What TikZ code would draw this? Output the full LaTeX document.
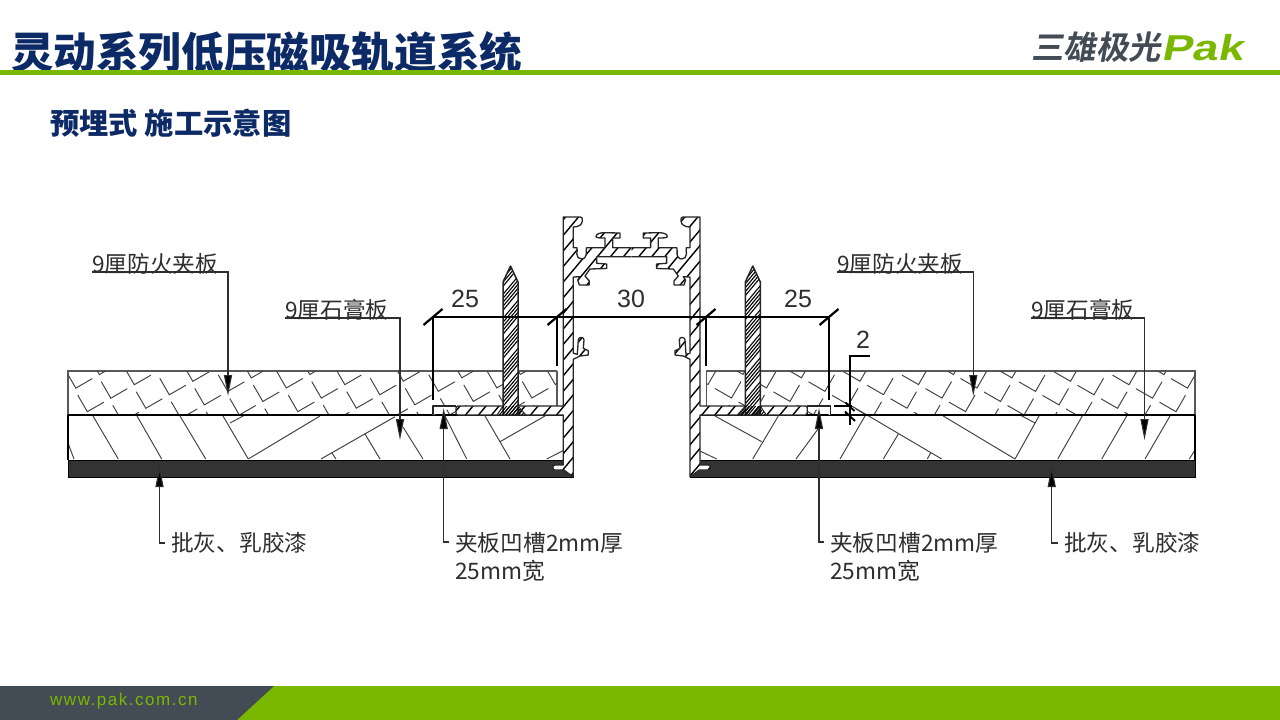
\documentclass[tikz,border=0pt]{standalone}
\usepackage{fontspec}
\setmainfont{Noto Sans CJK SC}
\newfontfamily\latinf{Liberation Sans}
\newfontfamily\logocjk[FakeSlant=0.18]{Noto Sans CJK SC Bold}
\newfontfamily\logolat[FakeSlant=0.16]{Liberation Sans Bold}
\usetikzlibrary{arrows.meta}
\definecolor{pakgreen}{HTML}{7AB800}
\definecolor{pakgray}{HTML}{434C55}
\definecolor{titleblue}{HTML}{0C2A66}
\definecolor{inkc}{HTML}{2E2E2E}
\definecolor{thinc}{HTML}{404040}
\tikzset{
  thinline/.style={draw=thinc,line width=0.95pt},
  outline/.style={draw=black!85,line width=1.3pt,line join=round},
  leader/.style={draw=inkc,line width=1.1pt},
  leaderarrow/.style={leader,-{Triangle[length=21pt,width=8pt,fill=black]}},
  dimline/.style={draw=black,line width=1.1pt},
  tick/.style={draw=black,line width=2.2pt},
  callout/.style={anchor=west,inner sep=0pt,font=\fontsize{22.7}{28}\selectfont,text=inkc},
  dimtext/.style={inner sep=0pt,font=\latinf\fontsize{25}{25}\selectfont,text=inkc},
}
% hatch: #1 sign of dx, #2 spacing, #3 first, #4 last
\newcommand\hatchlines[4]{%
  \pgfmathsetmacro\hnext{#3+#2}%
  \foreach \c in {#3,\hnext,...,#4}{\draw (\c,490) -- ++(#1*250,-300);}}
% banded hatch of the nail
\newcommand\bandlines[1]{%
  \foreach \c in {200,220,...,1040}{\foreach \o in {0,3.3,6.6,9.9,13.2}{\draw (\c+\o,490) -- ++(#1*250,-300);}}}
\newcommand\topboardmarks{%
  \begin{scope}
    \clip (68.3,371) rectangle (557,415);
    \foreach \i in {-6,...,30}{\foreach \j in {-12,...,12}{
      \pgfmathsetmacro\cx{87.3+58.5*\i+23.5*\j}
      \pgfmathsetmacro\cy{411.7-3.4*\i-13.5*\j}
      \ifdim\cy pt>350pt \ifdim\cy pt<440pt
      \draw[thinline] (\cx-9.5,\cy-16.5) -- (\cx,\cy) -- (\cx+16.5,\cy-9.5);
      \fi\fi
    }}
  \end{scope}}
\newcommand\profileopen{%
  (631.65,247.7) -- (612.7,247.7) -- (612.7,238) -- (620,238) -- (620,233) -- (604,232.7)
  .. controls (600,232.7) and (596,234) .. (596,236.5) .. controls (596,238) and (600,238) .. (605,238)
  -- (605,247.7) -- (586.5,247.7) -- (586.2,250.5)
  .. controls (587,257) and (584,259) .. (581.7,259) .. controls (579,259) and (576.5,257) .. (576.8,254) .. controls (577,251) and (577.5,250) .. (577,247.7)
  -- (573.3,247.7) -- (573.3,227) .. controls (578,227) and (582.3,225) .. (582.3,221) -- (582.3,219)
  .. controls (582.3,217.8) and (581.5,217) .. (580,217) -- (563.3,217) -- (563.3,406) -- (458,406)
  .. controls (456.5,406) and (456,407) .. (456,408) -- (456,413) .. controls (456,414.5) and (456.5,415) .. (458,415)
  -- (563.3,415) -- (563.3,465) -- (555,465) .. controls (552,465) and (552,470) .. (555,470) -- (564,470) -- (573.3,477)
  -- (573.3,359.3) -- (580,356) -- (588.3,355) -- (588.3,350.7) -- (583.3,348.3) -- (584,340)
  .. controls (584,336.5) and (578.5,336.5) .. (578.3,340) -- (577.3,354.3) -- (573.3,353.3)
  -- (573.3,277) -- (580,276.7) -- (577.7,280) -- (579.3,285) -- (589.3,285) -- (589.3,281) -- (585,276) -- (590,269)
  -- (606.7,268.5) -- (606.7,264) -- (596.7,263.3) -- (596.7,256.7) -- (631.65,256.7)}
\newcommand\nailpath{(503,282) -- (510.5,266) -- (518,282) -- (518,415) -- (503,415) -- cycle}
\newcommand\halfsection[1]{%
  \fill[white] \profileopen -- cycle;
  \begin{scope}
    \clip \profileopen -- cycle;
    \begin{scope}[draw=black,line width=1.4pt]
      \hatchlines{#1}{13}{0}{1300}
    \end{scope}
  \end{scope}
  \draw[outline] \profileopen;
  % nail
  \fill[white] \nailpath;
  \begin{scope}
    \clip \nailpath;
    \begin{scope}[draw=black,line width=1.1pt]
      \bandlines{#1}
    \end{scope}
  \end{scope}
  \draw[outline,line width=1.5pt] \nailpath;
  % dense part at the foot of the nail
  \begin{scope}
    \clip (497,415) -- (526,415) -- (518,406) -- (503,406) -- cycle;
    \begin{scope}[draw=black,line width=1pt]
      \hatchlines{#1}{3.2}{200}{1050}
    \end{scope}
  \end{scope}
  \draw[outline,line width=0.9pt] (497,415) -- (503,406) (518,406) -- (526,415);
  % groove
  \draw[outline,fill=white,line width=1.1pt] (433,415) -- (433,406) -- (456,406);
}
\begin{document}
\begin{tikzpicture}[x=1pt,y=-1pt]
\useasboundingbox (0,0) rectangle (1280,720);
\fill[white] (0,0) rectangle (1280,720);
% ----- header and footer
\node[anchor=west,inner sep=0pt,text=titleblue,font=\fontsize{42.6}{44}\selectfont\bfseries] (title) at (11,52) {灵动系列低压磁吸轨道系统};
\fill[pakgreen] (0,70) rectangle (1280,75);
\node[anchor=west,inner sep=0pt,text=titleblue,font=\fontsize{29.3}{31}\selectfont\bfseries] (subtitle) at (50,123) {预埋式 施工示意图};
\node[anchor=west,inner sep=0pt,text=pakgray,font=\logocjk\fontsize{32.5}{34}\selectfont] (logocn) at (1031,47) {三雄极光};
\node[anchor=west,inner sep=0pt,text=pakgreen,font=\logolat\fontsize{36}{36}\selectfont] (logopak) at (1161,48) {\scalebox{1.27}[1]{Pak}};
\fill[pakgreen] (0,686) rectangle (1280,720);
\fill[pakgray] (0,686) -- (274,686) -- (237,720) -- (0,720) -- cycle;
\node[anchor=west,inner sep=0pt,text=pakgreen,font=\latinf\fontsize{17}{18}\selectfont] (url) at (50,701) {\addfontfeature{LetterSpace=9}www.pak.com.cn};
% ----- top boards
\draw[draw=black!65,line width=1.2pt] (557,371) -- (68,371) -- (68,415);
\draw[draw=black!65,line width=1.2pt] (557,371) -- (557,406);
\topboardmarks
\begin{scope}[xshift=1263.3pt,xscale=-1]
\draw[draw=black!65,line width=1.2pt] (557,371) -- (68.3,371) -- (68.3,415);
\draw[draw=black!65,line width=1.2pt] (557,371) -- (557,406);
\topboardmarks
\end{scope}
% ----- gypsum hatching
\foreach \a/\b/\c/\d in {68/443/74/459,93/416/118.3/459,137/416/161.7/459,180/416/205.7/459,223/416/248.3/459,
  248.3/459/320/416,230/423/245/415,321/459/395/416.7,365/434/380/459,331.7/452.7/336/459,403/427/423/459,
  445/416/466.7/459,485/416/510/459,500/441.7/545/416,546.7/459/563/450.7,
  715/416/761.7/441.7,778.3/416/752.7/459,699.3/450.7/716.7/459,818/429/796/459,865/416/840/459,
  850/405/941.7/459,898.3/434/883.3/459,930.7/452.7/927.3/459,943.3/416/1015/459,1039/416/1015/459,
  1082.3/416/1057.7/459,1126.7/416/1101.7/459,1170/416/1145/459,1195/450/1189.3/459,1020/415/1035/423}{
  \draw[thinline] (\a,\b) -- (\c,\d);}
\draw[draw=black,line width=1.2pt] (68,415) -- (563,415) (699,415) -- (1195,415);
\draw[draw=black,line width=1.6pt] (68,415) -- (68,460) (1195,415) -- (1195,460);
% ----- finish coat
\fill[fill=black!80,draw=black,line width=0.8pt] (68,460) rectangle (573,477);
\fill[fill=black!80,draw=black,line width=0.8pt] (690,460) rectangle (1195,477);
% ----- sections
\halfsection{1}
\begin{scope}[xshift=1263.3pt,xscale=-1]
\halfsection{-1}
\end{scope}
% ----- dimensions
\coordinate (dA) at (433,317); \coordinate (dB) at (557,317); \coordinate (dC) at (706,317); \coordinate (dD) at (829,317);
\draw[dimline] (dA) -- (dD);
\draw[dimline] (dA) -- (433,400);
\draw[dimline] (dB) -- (557,366);
\draw[dimline] (dC) -- (706,366);
\draw[dimline] (dD) -- (829,400);
\foreach \p in {dA,dB,dC,dD}{\draw[tick] ([shift={(-9.5,8)}]\p) -- ([shift={(9.5,-8)}]\p);}
\node[dimtext] (d25a) at (465,299) {25};
\node[dimtext] (d30) at (631,299) {30};
\node[dimtext] (d25b) at (798,299) {25};
\node[dimtext] (d2) at (863,340) {2};
\coordinate (dE) at (870,356); \coordinate (dF) at (850,425);
\draw[dimline] (dE) -- (850,356) -- (dF);
\draw[dimline] (834,406) -- (852,406);
\draw[tick,line width=1.9pt] (845.5,402.5) -- (854.5,411);
\draw[tick,line width=1.9pt] (845,411.5) -- (855,421);
% ----- callouts
\node[callout] (fa) at (92,264) {9厘防火夹板};
\node[callout] (fb) at (285,310) {9厘石膏板};
\node[callout] (fc) at (837,264) {9厘防火夹板};
\node[callout] (fd) at (1031,310) {9厘石膏板};
\node[callout] (fe) at (171,543) {批灰、乳胶漆};
\node[callout] (ff) at (1064,543) {批灰、乳胶漆};
\node[callout,anchor=north west,align=left] (fg) at (455,532) {夹板凹槽2mm厚\\25mm宽};
\node[callout,anchor=north west,align=left] (fh) at (830,532) {夹板凹槽2mm厚\\25mm宽};
\coordinate (ua) at (92,272); \coordinate (ta) at (228,396);
\coordinate (ub) at (285,318); \coordinate (tb) at (400,440);
\coordinate (uc) at (837,272); \coordinate (tc) at (973.3,396);
\coordinate (ud) at (1031,318); \coordinate (td) at (1144.5,440);
\coordinate (te) at (159.5,466); \coordinate (tf) at (1051.7,466);
\coordinate (tg) at (443.7,408); \coordinate (th) at (819,408);
\draw[leaderarrow] (ua) -| (ta);
\draw[leaderarrow] (ub) -| (tb);
\draw[leaderarrow] (uc) -| (tc);
\draw[leaderarrow] (ud) -| (td);
\draw[leaderarrow] ([xshift=-6pt]fe.west) -| (te);
\draw[leaderarrow] ([xshift=-6pt]ff.west) -| (tf);
\draw[leaderarrow] (449,542) -| (tg);
\draw[leaderarrow] (824,542) -| (th);
\end{tikzpicture}
\end{document}
